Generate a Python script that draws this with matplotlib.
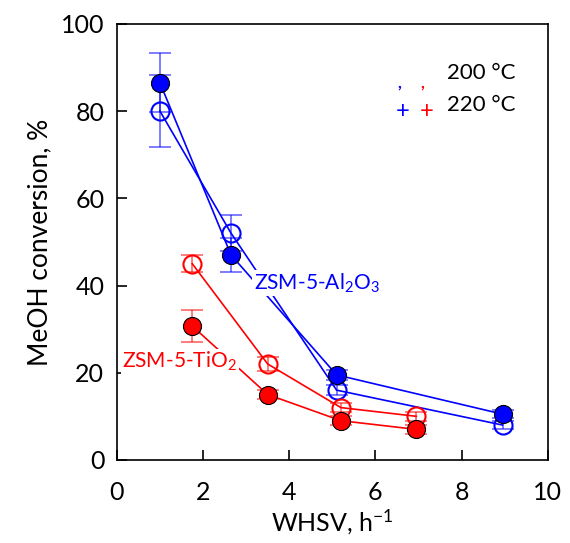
import numpy as np
import matplotlib.pyplot as plt

plt.rcParams['font.family'] = ['Lato', 'DejaVu Sans']
plt.rcParams['mathtext.fontset'] = 'custom'
plt.rcParams['mathtext.rm'] = 'Lato'
plt.rcParams['mathtext.it'] = 'Lato:italic'

# ZSM-5-Al2O3
al_x = [1.0, 2.65, 5.1, 8.95]
al_220 = [86.5, 47.0, 19.5, 10.5]
al_220_err = [6.8, 4.0, 1.2, 1.0]
al_200 = [80.0, 52.0, 16.0, 8.0]
al_200_err = [8.2, 4.2, 1.2, 1.0]

# ZSM-5-TiO2
ti_x = [1.75, 3.5, 5.2, 6.95]
ti_200 = [45.0, 22.0, 12.0, 10.0]
ti_200_err = [1.9, 1.6, 1.0, 1.0]
ti_220 = [30.7, 15.0, 9.0, 7.0]
ti_220_err = [3.7, 1.0, 1.0, 1.0]

fig = plt.figure(figsize=(5.7, 5.43), dpi=100)
ax = fig.add_axes([0.205, 0.153, 0.756, 0.803])

def serie(x, y, err, color, filled):
    ax.errorbar(x, y, yerr=err, fmt='none', ecolor=color, alpha=0.6,
                elinewidth=1.2, capsize=8, capthick=1.2, zorder=2)
    ax.plot(x, y, '-', color=color, lw=1.2, zorder=1)
    if filled:
        ax.plot(x, y, 'o', ms=13, mfc=color, mec='black', mew=0.8, zorder=4)
    else:
        ax.plot(x, y, 'o', ms=13, mfc='none', mec=color, mew=1.5, zorder=4)

serie(al_x, al_200, al_200_err, 'blue', False)
serie(al_x, al_220, al_220_err, 'blue', True)
serie(ti_x, ti_200, ti_200_err, 'red', False)
serie(ti_x, ti_220, ti_220_err, 'red', True)

box = dict(facecolor='white', edgecolor='none', pad=1)
ax.text(4.64, 40.5, 'ZSM-5-Al$_2$O$_3$', color='blue', fontsize=15,
        ha='center', va='center', bbox=box, zorder=3)
ax.text(1.46, 22.5, 'ZSM-5-TiO$_2$', color='red', fontsize=15,
        ha='center', va='center', bbox=box, zorder=3)

# legend
ax.text(7.65, 88.8, '200 °C', fontsize=16, va='center')
ax.text(7.65, 81.5, '220 °C', fontsize=16, va='center')
ax.text(6.55, 86.5, ',', color='blue', fontsize=12, ha='center', va='center', fontweight='bold')
ax.text(7.08, 86.5, ',', color='red', fontsize=12, ha='center', va='center', fontweight='bold')
ax.text(6.63, 79.8, '+', color='blue', fontsize=17, ha='center', va='center')
ax.text(7.18, 79.8, '+', color='red', fontsize=17, ha='center', va='center')

ax.set_xlim(0, 10)
ax.set_ylim(0, 100)
ax.set_xticks([0, 2, 4, 6, 8, 10])
ax.set_yticks([0, 20, 40, 60, 80, 100])
ax.tick_params(direction='in', length=7, width=1.2, labelsize=18)
ax.tick_params(axis='x', pad=15)
ax.tick_params(axis='y', pad=9)
for s in ax.spines.values():
    s.set_linewidth(1.2)
ax.set_xlabel('WHSV, h$^{-1}$', fontsize=18, labelpad=3)
ax.set_ylabel('MeOH conversion, %', fontsize=19, labelpad=6)

fig.savefig('out.png', dpi=100)
